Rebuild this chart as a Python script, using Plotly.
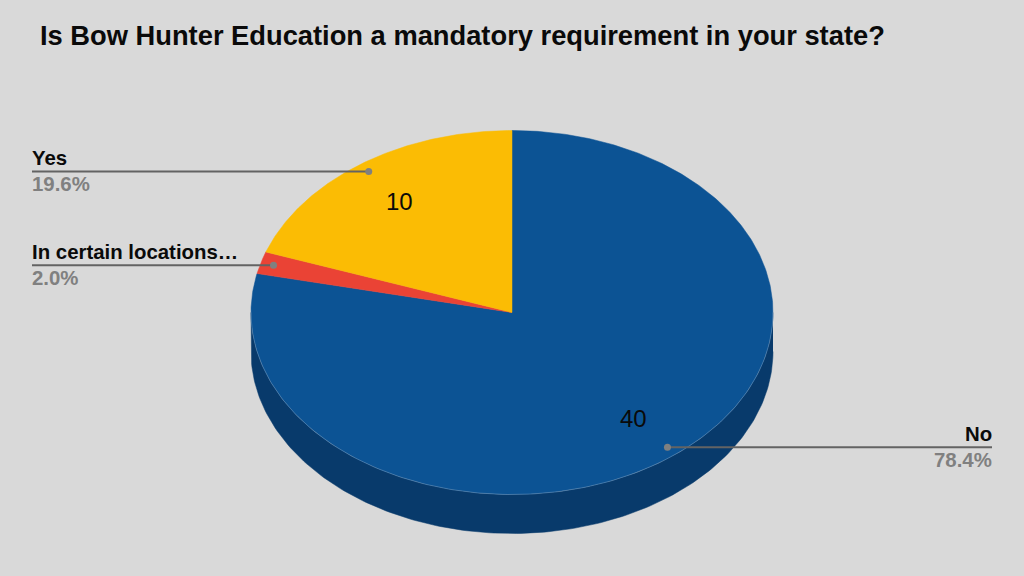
import numpy as np
import plotly.graph_objects as go

TITLE = "Is Bow Hunter Education a mandatory requirement in your state?"
categories = ["No", "In certain locations…", "Yes"]
values = [40, 1, 10]
colors = ["#0c5394", "#ea4335", "#fbbc04"]
show_value = [True, False, True]
label_side = ["right", "left", "left"]

WALL = "#083a6b"
BG = "#d9d9d9"
FONT = "Liberation Sans, Arial, sans-serif"
CX, CY, RX, RY, DEPTH = 512, 312.5, 261, 182, 39
LEFT, RIGHT = 32, 992


def pt(frac, r=1.0, dy=0):
    a = 2 * np.pi * np.asarray(frac)
    return CX + r * RX * np.sin(a), CY + dy - r * RY * np.cos(a)


fig = go.Figure()

# side wall
t = np.linspace(0.25, 0.75, 181)
x1, y1 = pt(t)
x2, y2 = pt(t[::-1], dy=DEPTH)
fig.add_trace(go.Scatter(x=np.r_[x1, x2], y=np.r_[y1, y2], fill="toself", fillcolor=WALL,
                         mode="lines", line=dict(color=WALL, width=0.5), hoverinfo="skip"))

total = sum(values)
start = 0.0
annots = []
leaders = []
for name, v, c, show, side in zip(categories, values, colors, show_value, label_side):
    f = v / total
    t = np.linspace(start, start + f, max(int(f * 720), 4))
    ex, ey = pt(t)
    fig.add_trace(go.Scatter(x=np.r_[CX, ex, CX], y=np.r_[CY, ey, CY], fill="toself", fillcolor=c,
                             mode="lines", line=dict(color=c, width=0.5), hoverinfo="skip"))
    mid = start + f / 2
    if show:
        vx, vy = pt(mid, 0.745)
        annots.append(dict(x=vx, y=vy, text=str(v), showarrow=False, xanchor="center", yanchor="middle",
                           font=dict(family=FONT, size=24, color="#0a0a0a")))
    dx, dy = pt(mid, 0.95)
    edge = LEFT if side == "left" else RIGHT
    anchor = "left" if side == "left" else "right"
    shift = -2 if side == "left" else 2
    leaders.append((edge, dx, dy))
    annots.append(dict(x=edge, y=dy - 13, text=f"<b>{name}</b>", showarrow=False, xanchor=anchor, yanchor="middle",
                       xshift=shift, font=dict(family=FONT, size=20.4, color="#0a0a0a")))
    annots.append(dict(x=edge, y=dy + 13, text=f"<b>{f * 100:.1f}%</b>", showarrow=False, xanchor=anchor,
                       yanchor="middle", xshift=shift, font=dict(family=FONT, size=20.4, color="#808080")))
    start += f

# rim highlight along front edge
t = np.linspace(0.25, 0.75, 181)
rx_, ry_ = pt(t)
fig.add_trace(go.Scatter(x=rx_, y=ry_, mode="lines", line=dict(color="rgba(255,255,255,0.3)", width=0.7),
                         hoverinfo="skip"))

for edge, dx, dy in leaders:
    fig.add_trace(go.Scatter(x=[edge, dx], y=[dy, dy], mode="lines", line=dict(color="#636363", width=2),
                             hoverinfo="skip"))
    fig.add_trace(go.Scatter(x=[dx], y=[dy], mode="markers", marker=dict(color="#808080", size=7),
                             hoverinfo="skip"))

annots.append(dict(x=40, y=35, text=f"<b>{TITLE}</b>", showarrow=False, xanchor="left", yanchor="middle",
                   xshift=-2, font=dict(family=FONT, size=27.3, color="#0a0a0a")))

fig.update_layout(width=1024, height=576, margin=dict(l=0, r=0, t=0, b=0),
                  paper_bgcolor=BG, plot_bgcolor=BG, showlegend=False, annotations=annots,
                  xaxis=dict(range=[0, 1024], visible=False, fixedrange=True),
                  yaxis=dict(range=[576, 0], visible=False, fixedrange=True))
fig.write_html("out.html", config=dict(displayModeBar=False),
               post_script="document.body.style.margin='0';document.body.style.overflow='hidden';")
